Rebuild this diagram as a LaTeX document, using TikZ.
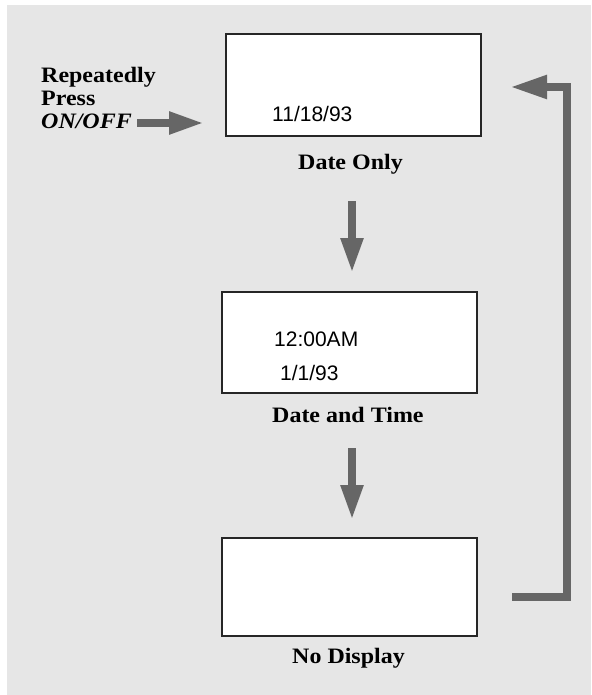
\documentclass[tikz,border=0pt]{standalone}
\usepackage{fontspec}
\setmainfont{Liberation Serif}
\newfontfamily\labfont[FakeStretch=1.09]{Liberation Serif}
\newfontfamily\helv{Liberation Sans}
\usetikzlibrary{arrows.meta}
\definecolor{bg}{HTML}{E6E6E6}
\definecolor{arr}{HTML}{666666}
\tikzset{
  lcd/.style={draw=black!85, line width=1.5pt, fill=white},
  big/.style={draw=arr, line width=8pt, -{Triangle[length=35pt,width=21pt]}},
  lab/.style={font=\labfont\fontsize{22}{23}\selectfont\bfseries, anchor=base west, inner sep=0pt},
  dig/.style={font=\helv\fontsize{21}{24}\selectfont, anchor=base west, inner sep=0pt}
}
\begin{document}
\begin{tikzpicture}[x=1pt,y=-1pt]
\useasboundingbox (0,0) rectangle (591,695);
\fill[bg] (7,5) rectangle (591,695);
% boxes
\draw[lcd] (226,34) rectangle (481,136);
\draw[lcd] (222,292) rectangle (477,393);
\draw[lcd] (222,538) rectangle (477,636);
\node[dig] (t1) at (272,121.5) {11/18/93};
\node[dig] (t2) at (274,346) {12:00AM};
\node[dig] (t3) at (280,380) {1/1/93};
\node[lab] (l1) at (298,169) {Date Only};
\node[lab] (l2) at (272,422) {Date and Time};
\node[lab] (l3) at (292,663) {No Display};
\node[lab] (p1) at (41,83) {Repeatedly};
\node[lab] (p2) at (41,106) {Press};
\node[lab] (p3) at (41,129) {\itshape ON/OFF};
% arrows
\coordinate (a0) at (137,123);
\coordinate (a1) at (204,123);
\draw[big] (a0) -- (a1);
\coordinate (d1a) at (352,201);
\coordinate (d1b) at (352,273);
\draw[big] (d1a) -- (d1b);
\coordinate (d2a) at (352,448);
\coordinate (d2b) at (352,520);
\draw[big] (d2a) -- (d2b);
\coordinate (r0) at (512,597);
\coordinate (r1) at (567,597);
\coordinate (r2) at (567,87);
\coordinate (r3) at (510,87);
\draw[big, -{Triangle[length=37pt,width=22pt]}, line join=miter] (r0) -- (r1) -- (r2) -- (r3);
\end{tikzpicture}
\end{document}
